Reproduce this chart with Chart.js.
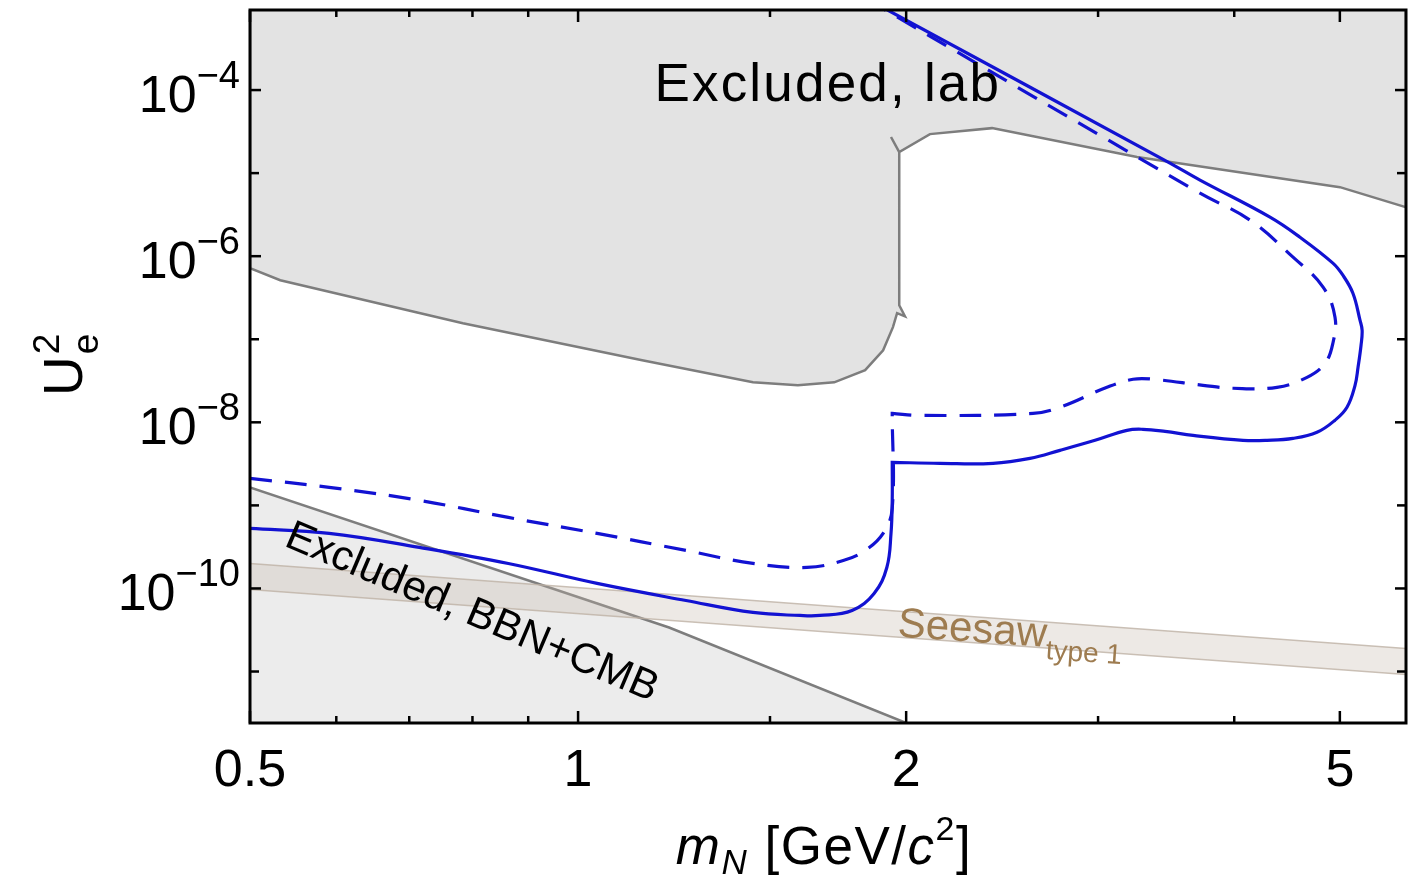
<!DOCTYPE html>
<html>
<head>
<meta charset="utf-8">
<script src="https://cdn.jsdelivr.net/npm/chart.js@4.4.0/dist/chart.umd.min.js"></script>
<style>
  body { margin: 0; background: #fff; }
  #wrap { width: 1419px; height: 877px; }
</style>
</head>
<body>
<div id="wrap"><canvas id="chart" width="1419" height="877"></canvas></div>
<script>
// ticks
const xTicksMajor = [0.5, 1, 2, 5];
const xTickLabels = ['0.5', '1', '2', '5'];
const xTicksMinor = [0.6, 0.7, 0.8, 0.9, 1.5, 3, 4];
const yTicksMajor = [1e-4, 1e-6, 1e-8, 1e-10];
const yTickExponents = ['\u22124', '\u22126', '\u22128', '\u221210'];
const yTicksMinor = [1e-5, 1e-7, 1e-9, 1e-11];

// excluded by lab searches (closed outline)
const labMass = [0.5, 0.5, 0.533, 0.784, 1.145, 1.447, 1.591, 1.718, 1.834, 1.905, 1.945, 1.962, 1.995, 1.971, 1.971, 1.971, 1.937, 1.971, 2.103, 2.398, 3.257, 5.001, 5.75, 5.75, 0.5];
const labU2 = [1e-3, 7.16e-7, 5.14e-7, 1.56e-7, 5.58e-8, 3.03e-8, 2.79e-8, 3.03e-8, 4.24e-8, 7.36e-8, 1.40e-7, 2.06e-7, 1.89e-7, 2.57e-7, 4.24e-7, 1.79e-5, 2.72e-5, 1.79e-5, 2.95e-5, 3.48e-5, 1.56e-5, 6.78e-6, 3.89e-6, 1e-3, 1e-3];

// excluded by BBN+CMB (lower boundary)
const bbnMass = [0.5, 1.212, 2.0];
const bbnU2 = [1.65e-9, 3.39e-11, 2.4e-12];

// seesaw type 1 band
const seesawMass = [0.5, 5.75];
const seesawUpper = [2.0e-10, 1.89e-11];
const seesawLower = [9.7e-11, 9.2e-12];

// sensitivity curves (corner points repeated to keep them sharp)
const solidMass = [0.500, 0.591, 0.715, 0.863, 1.041, 1.256, 1.447, 1.598, 1.667, 1.784, 1.869, 1.920, 1.937, 1.942, 1.942, 1.942, 2.148, 2.403, 2.598, 2.768, 2.981, 3.189, 3.298, 3.456, 3.667, 4.075, 4.287, 4.529, 4.764, 4.949, 5.076, 5.163, 5.196, 5.229, 5.241, 5.218, 5.140, 5.032, 4.927, 4.596, 4.314, 3.721, 3.492, 1.900];
const solidU2 = [5.28e-10, 4.60e-10, 3.12e-10, 2.00e-10, 1.15e-10, 7.16e-11, 5.14e-11, 4.73e-11, 4.73e-11, 5.43e-11, 8.71e-11, 1.79e-10, 4.60e-10, 1.15e-9, 3.30e-9, 3.30e-9, 3.21e-9, 3.21e-9, 3.68e-9, 4.60e-9, 6.07e-9, 8.01e-9, 8.24e-9, 7.79e-9, 6.97e-9, 6.07e-9, 6.07e-9, 6.41e-9, 7.58e-9, 1.06e-8, 1.52e-8, 2.79e-8, 4.60e-8, 8.47e-8, 1.28e-7, 1.69e-7, 3.58e-7, 5.90e-7, 8.24e-7, 1.69e-6, 2.95e-6, 8.24e-6, 1.32e-5, 1e-3];

const dashedMass = [0.500, 0.591, 0.715, 0.863, 1.041, 1.256, 1.447, 1.622, 1.751, 1.834, 1.905, 1.942, 1.942, 1.942, 2.060, 2.615, 2.768, 3.057, 3.230, 3.370, 3.745, 3.991, 4.378, 4.665, 4.846, 4.927, 4.949, 4.826, 4.529, 4.135, 3.721, 1.892];
const dashedU2 = [2.11e-9, 1.65e-9, 1.15e-9, 7.16e-10, 4.60e-10, 2.87e-10, 2.00e-10, 1.79e-10, 2.17e-10, 2.87e-10, 4.60e-10, 9.20e-10, 1.28e-8, 1.28e-8, 1.21e-8, 1.28e-8, 1.52e-8, 2.64e-8, 3.30e-8, 3.30e-8, 2.79e-8, 2.57e-8, 2.64e-8, 3.48e-8, 5.14e-8, 8.95e-8, 1.84e-7, 4.24e-7, 9.73e-7, 2.72e-6, 5.74e-6, 1e-3];

const pts = (xs, ys) => xs.map((v, i) => ({x: v, y: ys[i]}));

const FONT = '"Liberation Sans", Arial, Helvetica, sans-serif';
const BLUE = 'rgb(18, 18, 210)';
const GREYLINE = 'rgb(125, 125, 125)';

function drawRich(ctx, parts, x, y) {
  // parts: [text, size, italic, baselineShift]
  let cx = x;
  for (const [t, size, ital, shift] of parts) {
    ctx.font = (ital ? 'italic ' : '') + size + 'px ' + FONT;
    ctx.fillText(t, cx, y + shift);
    cx += ctx.measureText(t).width;
  }
  return cx - x;
}
function richWidth(ctx, parts) {
  let w = 0;
  for (const [t, size, ital] of parts) {
    ctx.font = (ital ? 'italic ' : '') + size + 'px ' + FONT;
    w += ctx.measureText(t).width;
  }
  return w;
}

const decorations = {
  id: 'decorations',
  afterDatasetsDraw(chart) {
    const {ctx, chartArea: a, scales: {x, y}} = chart;
    ctx.save();
    ctx.fillStyle = '#000';
    ctx.textBaseline = 'alphabetic';

    // region labels
    ctx.font = '53px ' + FONT;
    ctx.letterSpacing = '2.2px';
    ctx.fillText('Excluded, lab', x.getPixelForValue(1.175), y.getPixelForValue(7.4e-5));
    ctx.letterSpacing = '0px';

    ctx.save();
    ctx.translate(x.getPixelForValue(0.536), y.getPixelForValue(3.3e-10));
    ctx.rotate(23 * Math.PI / 180);
    ctx.font = '42px ' + FONT;
    ctx.fillText('Excluded, BBN+CMB', 0, 0);
    ctx.restore();

    ctx.save();
    ctx.translate(x.getPixelForValue(1.962), y.getPixelForValue(2.64e-11));
    ctx.rotate(4 * Math.PI / 180);
    ctx.fillStyle = 'rgb(158, 124, 80)';
    drawRich(ctx, [['Seesaw', 42, false, 0], ['type 1', 28, false, 12]], 0, 0);
    ctx.restore();

    // inward ticks and frame
    ctx.strokeStyle = '#000';
    ctx.lineWidth = 2.5;
    const tick = (px, py, dx, dy) => {
      ctx.beginPath(); ctx.moveTo(px, py); ctx.lineTo(px + dx, py + dy); ctx.stroke();
    };
    xTicksMajor.forEach(v => { const p = x.getPixelForValue(v); tick(p, a.bottom, 0, -12); tick(p, a.top, 0, 12); });
    xTicksMinor.forEach(v => { const p = x.getPixelForValue(v); tick(p, a.bottom, 0, -7); tick(p, a.top, 0, 7); });
    yTicksMajor.forEach(v => { const p = y.getPixelForValue(v); tick(a.left, p, 11, 0); tick(a.right, p, -11, 0); });
    yTicksMinor.forEach(v => { const p = y.getPixelForValue(v); tick(a.left, p, 9, 0); tick(a.right, p, -9, 0); });
    ctx.lineWidth = 3;
    ctx.strokeRect(a.left, a.top, a.right - a.left, a.bottom - a.top);
    ctx.restore();
  },
  afterDraw(chart) {
    const {ctx, chartArea: a, scales: {x, y}} = chart;
    ctx.save();
    ctx.fillStyle = '#000';

    // x tick labels
    ctx.font = '52px ' + FONT;
    ctx.textAlign = 'center';
    xTicksMajor.forEach((v, i) => ctx.fillText(xTickLabels[i], x.getPixelForValue(v), a.bottom + 63));
    ctx.textAlign = 'left';

    // y tick labels 10^n
    yTicksMajor.forEach((v, i) => {
      const parts = [['10', 52, false, 0], [yTickExponents[i], 38, false, -24]];
      const w = richWidth(ctx, parts);
      drawRich(ctx, parts, a.left - 10 - w, y.getPixelForValue(v) + 22);
    });

    // x axis title
    ctx.letterSpacing = '1.5px';
    const xt = [['m', 53, true, 0], ['N', 35, true, 10], [' [GeV/', 53, false, 0], ['c', 53, true, 0], ['2', 34, false, -24], [']', 53, false, 0]];
    const xw = richWidth(ctx, xt);
    drawRich(ctx, xt, 824 - xw / 2, 864);
    ctx.letterSpacing = '0px';

    // y axis title
    ctx.save();
    ctx.translate(82, 396);
    ctx.rotate(-Math.PI / 2);
    ctx.font = '55px ' + FONT;
    ctx.fillText('U', 0, 0);
    const uw = ctx.measureText('U').width;
    ctx.font = '37px ' + FONT;
    ctx.fillText('e', uw + 2, 16);
    ctx.fillText('2', uw + 2, -23);
    ctx.restore();

    ctx.restore();
  }
};

new Chart(document.getElementById('chart'), {
  type: 'scatter',
  data: {
    datasets: [
      {
        data: pts(solidMass, solidU2),
        showLine: true, borderColor: BLUE, borderWidth: 3.2,
        pointRadius: 0, tension: 0.4, fill: false, order: 0, clip: 0
      },
      {
        data: pts(dashedMass, dashedU2),
        showLine: true, borderColor: BLUE, borderWidth: 3.2, borderDash: [22, 13],
        pointRadius: 0, tension: 0.4, fill: false, order: 1, clip: 0
      },
      {
        data: pts(seesawMass, seesawUpper),
        showLine: true, borderColor: 'rgba(190, 178, 165, 0.8)', borderWidth: 1.5,
        backgroundColor: 'rgba(195, 183, 170, 0.3)',
        pointRadius: 0, fill: '+1', order: 2, clip: 0
      },
      {
        data: pts(seesawMass, seesawLower),
        showLine: true, borderColor: 'rgba(190, 178, 165, 0.8)', borderWidth: 1.5,
        pointRadius: 0, fill: false, order: 2, clip: 0
      },
      {
        data: pts(bbnMass, bbnU2),
        showLine: true, borderColor: GREYLINE, borderWidth: 2.5,
        backgroundColor: 'rgb(236, 236, 236)',
        pointRadius: 0, fill: 'start', order: 3, clip: 0
      },
      {
        data: pts(labMass, labU2),
        showLine: true, borderColor: GREYLINE, borderWidth: 2.5,
        backgroundColor: 'rgb(227, 227, 227)',
        pointRadius: 0, fill: 'shape', order: 4, clip: 0
      }
    ]
  },
  options: {
    responsive: false,
    devicePixelRatio: 1,
    animation: false,
    layout: { padding: { left: 250, right: 13, top: 10, bottom: 154 } },
    plugins: { legend: { display: false }, tooltip: { enabled: false } },
    scales: {
      x: { type: 'logarithmic', min: 0.5, max: 5.75, display: false },
      y: { type: 'logarithmic', min: 2.4e-12, max: 9.2e-4, display: false }
    }
  },
  plugins: [decorations]
});
</script>
</body>
</html>
